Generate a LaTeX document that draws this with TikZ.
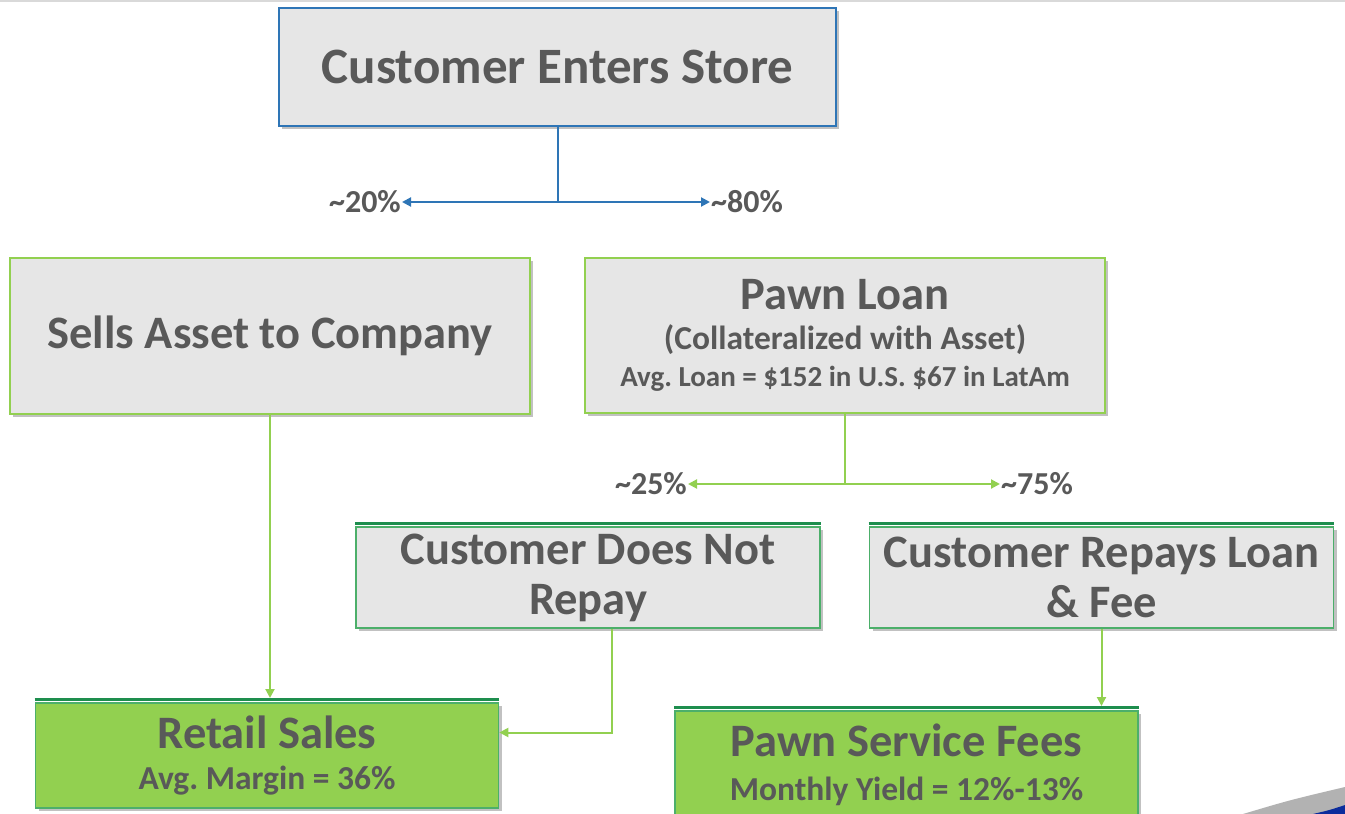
\documentclass[tikz,border=0pt]{standalone}
\usepackage{fontspec}
\setmainfont{Carlito}
\usetikzlibrary{arrows.meta,shadows}

\definecolor{boxgray}{HTML}{E6E6E6}
\definecolor{txtgray}{HTML}{595959}
\definecolor{flowblue}{HTML}{2E75B6}
\definecolor{flowgreen}{HTML}{92D050}
\definecolor{edgegreen}{HTML}{4CAF6A}
\definecolor{bargreen}{HTML}{1E8E4E}
\definecolor{swoopblue}{HTML}{0B2C9C}

\newcommand{\headsize}{\fontsize{51}{56}\selectfont}
\newcommand{\titlesize}{\fontsize{46.5}{50}\selectfont}
\newcommand{\subsize}{\fontsize{33.5}{40}\selectfont}
\newcommand{\notesize}{\fontsize{29}{37}\selectfont}
\newcommand{\pctsize}{\fontsize{32}{36}\selectfont}

\tikzset{
  box/.style={rectangle, fill=boxgray, text=txtgray, font=\bfseries\titlesize\frenchspacing,
    align=center, inner sep=0pt, line width=2pt,
    drop shadow={shadow xshift=3pt, shadow yshift=-3pt, opacity=0.35, fill=black!70}},
  bluebox/.style={box, draw=flowblue},
  greenbox/.style={box, draw=flowgreen},
  lowbox/.style={box, draw=edgegreen, line width=1.6pt},
  salebox/.style={lowbox, fill=flowgreen},
  pct/.style={text=txtgray, font=\bfseries\pctsize, inner sep=1pt},
  topbar/.style={bargreen, line width=3pt},
  bline/.style={flowblue, line width=2pt},
  gline/.style={flowgreen, line width=2pt},
  tip/.style={-{Triangle[length=9pt,width=9pt]}}
}

\begin{document}
\begin{tikzpicture}[x=1pt,y=-1pt]
\useasboundingbox (0,0) rectangle (1345,814);
\draw[black!15, line width=1.5pt] (0,0.75) -- (1345,0.75);

% decorative swoosh in the corner
\fill[black!30] (1243,814) .. controls (1290,800) .. (1345,787) -- (1345,814) -- cycle;
\fill[swoopblue] (1313,814) .. controls (1330,810) .. (1345,805) -- (1345,814) -- cycle;

% boxes
\node[bluebox, font=\bfseries\headsize, minimum width=557pt, minimum height=118pt] (ces) at (557.5,67) {Customer Enters Store};
\node[greenbox, minimum width=520pt, minimum height=156pt] (sa) at (270,336) {Sells Asset to Company};
\node[greenbox, minimum width=520pt, minimum height=155pt] (pl) at (845,335.5)
  {Pawn Loan\\[-10pt] \subsize (Collateralized with Asset)\\[-13pt] \notesize Avg. Loan = \$152 in U.S. \$67 in LatAm};
\node[lowbox, minimum width=464pt, minimum height=101pt] (cdnr) at (588,577.5) {Customer Does Not\\ Repay};
\node[lowbox, minimum width=464pt, minimum height=101pt] (crlf) at (1101.5,577.5) {Customer Repays Loan\\ \& Fee};
\node[salebox, minimum width=463pt, minimum height=105pt] (rs) at (267,755.5)
  {Retail Sales\\[-9pt] \subsize Avg. Margin = 36\%};
\node[salebox, minimum width=463pt, minimum height=108pt] (psf) at (906.5,765)
  {Pawn Service Fees\\[-6pt] \subsize Monthly Yield = 12\%-13\%};
\foreach \n in {cdnr,crlf,rs,psf}
  \draw[topbar] ([yshift=3pt]\n.north west) -- ([yshift=3pt]\n.north east);

% percentages
\node[pct, anchor=east] (p20) at (402,202) {\textasciitilde20\%};
\node[pct, anchor=west] (p80) at (710,202) {\textasciitilde80\%};
\node[pct, anchor=east] (p25) at (688,484) {\textasciitilde25\%};
\node[pct, anchor=west] (p75) at (1000,484) {\textasciitilde75\%};

% connectors
\coordinate (j1) at (557.5,202);
\coordinate (j2) at (845,484);
\draw[bline] (ces.south) -- (j1);
\draw[bline,tip] (j1) -- (p20.east);
\draw[bline,tip] (j1) -- (p80.west);
\draw[gline] (pl.south) -- (j2);
\draw[gline,tip] (j2) -- (p25.east);
\draw[gline,tip] (j2) -- (p75.west);
\draw[gline,tip] (sa.south) -- (sa.south |- 0,698);
\draw[gline,tip] ([xshift=24pt]cdnr.south) |- ([yshift=23pt]rs.east);
\draw[gline,tip] (crlf.south) -- (crlf.south |- 0,706);
\end{tikzpicture}
\end{document}
